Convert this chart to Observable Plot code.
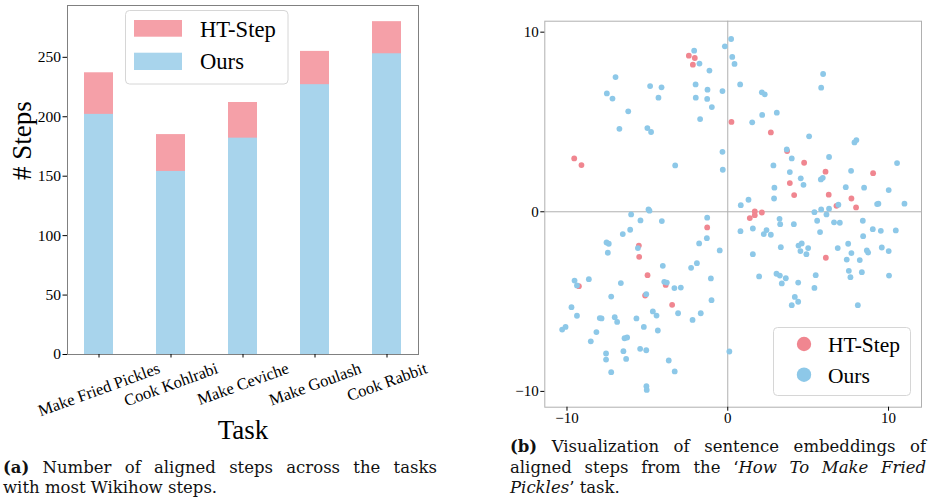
<!DOCTYPE html>
<html><head><meta charset="utf-8">
<script src="https://cdn.jsdelivr.net/npm/d3@7"></script>
<script src="https://cdn.jsdelivr.net/npm/@observablehq/plot@0.6"></script>
<style>
html,body{margin:0;padding:0;background:#fff;}
#page{position:relative;width:928px;height:502px;overflow:hidden;background:#fff;}
.abs{position:absolute;}
.cap{position:absolute;font-family:"DejaVu Serif",serif;font-size:16.5px;line-height:20.5px;color:#111;white-space:nowrap;}
.just{text-align:justify;text-align-last:justify;white-space:normal;}
</style></head><body>
<div id="page">
  <div id="barHolder" class="abs" style="left:0;top:0;"></div>
  <div id="scHolder" class="abs" style="left:500px;top:0;"></div>
  <svg class="abs" style="left:0;top:0;" width="460" height="100" font-family="'Liberation Serif', serif">
    <rect x="125.5" y="10.5" width="162.5" height="73.5" rx="4" fill="#fff" stroke="#d6d6d6"/>
    <rect x="134" y="20" width="48" height="16.7" fill="#F5A0A8"/>
    <rect x="134" y="52.7" width="48" height="17.3" fill="#A8D4EC"/>
    <text x="200" y="36.7" font-size="22.6" fill="#000">HT-Step</text>
    <text x="200" y="69.3" font-size="22.6" fill="#000">Ours</text>
  </svg>
  <svg class="abs" style="left:0;top:0;" width="928" height="420" font-family="'Liberation Serif', serif">
    <rect x="773.5" y="327.5" width="137" height="68" rx="4" fill="#fff" stroke="#d6d6d6"/>
    <circle cx="804" cy="344" r="7.2" fill="#F08690"/>
    <circle cx="804" cy="374.7" r="7.2" fill="#8DC8E8"/>
    <text x="828" y="351.7" font-size="21.5" fill="#000">HT-Step</text>
    <text x="828" y="382.7" font-size="21.5" fill="#000">Ours</text>
  </svg>
  <div class="cap just" style="left:3px;top:457.5px;width:434px;"><b>(a)</b> Number of aligned steps across the tasks</div>
  <div class="cap" style="left:3px;top:478px;">with most Wikihow steps.</div>
  <div class="cap just" style="left:510px;top:436.5px;width:416px;"><b>(b)</b> Visualization of sentence embeddings of</div>
  <div class="cap just" style="left:510px;top:457.5px;width:416px;">aligned steps from the ‘<i>How To Make Fried</i></div>
  <div class="cap" style="left:510px;top:478px;"><i>Pickles</i>’ task.</div>
</div>
<script>
// ---- Bar chart data ----
const tasks = ["Make Fried Pickles", "Cook Kohlrabi", "Make Ceviche", "Make Goulash", "Cook Rabbit"];
const htStepSteps = [237, 185, 212, 255, 280];
const oursSteps = [202, 154, 182, 227, 253];
const barYTicks = [0, 50, 100, 150, 200, 250];

// ---- Scatter data ----
const scatterTicks = [-10, 0, 10];
const htStepPts = [
  [-2.42,8.69],[-2.05,8.56],[-2.17,8.19],[0.23,5.00],[2.68,4.42],[3.69,3.38],
  [-9.55,2.97],[-9.10,2.60],[-1.28,-0.87],[-5.53,-1.88],[-5.51,-2.51],[-4.99,-3.53],
  [4.75,2.73],[6.08,2.23],[9.04,2.15],[3.86,1.60],[4.13,0.93],[6.28,0.95],
  [7.69,0.74],[7.98,0.24],[6.76,0.33],[1.68,0.02],[1.68,-0.19],[2.12,-0.04],
  [1.37,-0.35],[6.10,-2.56],[-9.26,-4.14],[-3.86,-4.07],[-5.14,-4.66],[-3.46,-5.18]
];
const oursPts = [
  [0.21,9.62],[-0.18,9.21],[-2.09,8.97],[0.28,8.62],[0.42,8.23],[-1.76,8.25],[-1.14,7.86],
  [-6.98,7.50],[-2.00,7.09],[-4.83,7.00],[-4.12,6.93],[-1.26,6.80],[-0.33,6.72],[-7.52,6.59],
  [-7.17,6.30],[-4.31,6.35],[-1.99,6.35],[-1.28,6.28],[-0.99,5.83],[-6.19,5.59],[-1.72,5.16],
  [-6.74,4.62],[-5.00,4.66],[-4.77,4.44],[-0.33,3.34],
  [5.93,7.67],[0.77,7.09],[5.81,6.91],[2.12,6.65],[2.30,6.54],[2.14,5.39],[3.05,5.52],
  [1.52,4.98],[5.06,4.20],[7.88,3.86],[8.00,3.99],[3.67,3.47],
  [-3.27,2.58],[-0.31,2.34],[-4.93,0.13],[-4.87,0.06],[-6.01,-0.15],[-5.43,-0.48],[-4.10,-0.52],
  [-1.28,-0.33],[-6.07,-1.00],[-6.53,-1.24],[-7.54,-1.71],[-7.40,-1.78],[-5.59,-2.02],[-7.46,-2.28],
  [-1.30,-1.47],[-1.78,-1.76],[-0.50,-2.15],[-4.04,-3.01],[-1.92,-2.86],[-2.28,-3.12],[-9.53,-3.83],
  [-8.64,-3.75],[-1.05,-3.71],
  [6.30,3.05],[3.98,2.97],[2.84,2.58],[10.53,2.71],[3.86,2.21],[7.67,2.28],[5.79,1.80],[5.91,1.89],
  [4.54,1.86],[4.71,1.50],[2.90,1.34],[7.34,1.37],[8.48,1.34],[10.01,1.21],[2.88,0.74],[1.29,0.67],
  [0.81,0.37],[6.88,0.39],[9.29,0.43],[9.37,0.45],[10.99,0.45],[5.39,-0.02],[5.81,0.13],[6.30,0.17],
  [6.14,-0.15],[3.22,-0.39],[3.26,-0.69],[5.56,-0.50],[4.11,-0.69],[6.61,-0.59],[6.97,-0.61],[8.40,-0.50],
  [0.79,-1.08],[1.56,-0.93],[2.41,-1.02],[2.24,-1.24],[2.68,-1.28],[5.74,-1.13],[9.02,-0.97],[9.52,-1.06],
  [10.45,-1.04],[8.42,-1.36],[3.30,-1.97],[4.40,-1.88],[4.60,-1.76],[5.00,-2.02],[4.52,-2.19],[4.89,-2.36],
  [6.84,-2.02],[7.49,-1.78],[7.69,-2.30],[7.40,-2.66],[8.21,-2.69],[8.65,-2.15],[8.73,-2.27],[9.58,-1.99],
  [10.01,-2.19],[1.56,-2.36],[1.95,-3.60],[3.03,-3.45],[3.24,-3.55],[3.61,-3.70],[5.47,-3.53],[7.53,-3.29],
  [7.63,-3.64],[8.34,-3.36],[10.03,-3.55],
  [-9.38,-4.10],[-6.65,-3.97],[-3.95,-3.90],[-3.79,-3.94],[-3.32,-4.25],[-2.92,-4.22],[-5.07,-4.59],
  [-7.25,-4.72],[-9.72,-5.31],[-9.38,-5.79],[-10.30,-6.56],[-10.09,-6.41],[-7.96,-5.92],[-7.85,-5.94],
  [-7.03,-5.87],[-6.88,-6.13],[-5.68,-5.94],[-4.66,-5.55],[-4.43,-5.78],[-5.22,-6.41],[-4.35,-6.61],
  [-8.17,-6.70],[-8.52,-7.21],[-6.42,-7.04],[-6.26,-7.00],[-7.57,-7.89],[-7.57,-8.23],[-6.49,-7.76],
  [-6.32,-8.19],[-5.45,-7.63],[-5.07,-7.71],[-7.25,-8.93],[-3.67,-8.28],[-3.30,-8.89],[-5.06,-9.71],
  [-5.04,-9.92],[-3.09,-5.65],[-2.19,-6.02],[-1.68,-5.65],[-1.01,-4.92],[0.10,-7.78],
  [3.36,-3.99],[4.38,-3.94],[5.39,-4.24],[4.17,-4.74],[4.38,-5.01],[3.98,-5.20],[8.09,-5.20]
];

const serif = '"Liberation Serif", "Times New Roman", serif';
const barData = tasks.map((t, i) => ({task: t, ht: htStepSteps[i], ours: oursSteps[i]}));

const bar = Plot.plot({
  width: 460, height: 450,
  marginLeft: 67, marginRight: 42, marginTop: 5, marginBottom: 96,
  style: {fontFamily: serif, fontSize: "15.5px", color: "#000", background: "transparent", overflow: "visible"},
  x: {domain: tasks, paddingInner: 0.6, paddingOuter: 0.22, axis: null},
  y: {domain: [0, 293.6], axis: null},
  marks: [
    Plot.barY(barData, {x: "task", y: "ht", fill: "#F5A0A8"}),
    Plot.barY(barData, {x: "task", y: "ours", fill: "#A8D4EC"}),
    Plot.frame({stroke: "#808080", strokeWidth: 1}),
    Plot.axisY(barYTicks, {tickSize: 4.5, tickPadding: 2, label: null, fontSize: 15.5}),
    Plot.axisX(tasks, {tickSize: 3.5, tickFormat: () => "", label: null}),
    Plot.text(tasks, {x: d => d, frameAnchor: "bottom", rotate: -20, textAnchor: "middle", lineAnchor: "middle", fontSize: 16.5, ariaDescription: "xlab"}),
    Plot.text(["# Steps"], {frameAnchor: "left", dx: -45, rotate: -90, fontSize: 27}),
    Plot.text(["Task"], {frameAnchor: "bottom", dy: 84, fontSize: 27})
  ]
});
document.getElementById("barHolder").appendChild(bar);

// place rotated tick labels like matplotlib (centered on tick, bbox top under the axis)
const ang = 20 * Math.PI / 180;
bar.querySelectorAll('g[aria-description="xlab"] text').forEach(t => {
  const bb = t.getBBox();
  const m = /translate\(\s*([-\d.e]+)[,\s]+([-\d.e]+)\s*\)/.exec(t.getAttribute("transform") || "");
  if (!m) return;
  const half = (bb.width * Math.sin(ang) + bb.height * 0.8 * Math.cos(ang)) / 2;
  t.setAttribute("transform", `translate(${+m[1]},${+m[2] + 6 + half}) rotate(-20)`);
});

const sc = Plot.plot({
  width: 428, height: 430,
  marginLeft: 44.3, marginRight: 7, marginTop: 20.7, marginBottom: 23.3,
  style: {fontFamily: serif, fontSize: "15px", color: "#000", background: "transparent", overflow: "visible"},
  x: {domain: [-11.38, 12.05], axis: null},
  y: {domain: [-10.88, 10.61], axis: null},
  marks: [
    Plot.ruleX([0], {stroke: "#b0b0b0", strokeWidth: 1}),
    Plot.ruleY([0], {stroke: "#b0b0b0", strokeWidth: 1}),
    Plot.dot(htStepPts, {x: d => d[0], y: d => d[1], r: 2.9, fill: "#F08690"}),
    Plot.dot(oursPts, {x: d => d[0], y: d => d[1], r: 2.9, fill: "#8DC8E8"}),
    Plot.frame({stroke: "#b0b0b0", strokeWidth: 1}),
    Plot.axisX(scatterTicks, {tickSize: 4, tickPadding: 1, label: null, fontSize: 15}),
    Plot.axisY(scatterTicks, {tickSize: 4, tickPadding: 2, label: null, fontSize: 15})
  ]
});
document.getElementById("scHolder").appendChild(sc);
</script>
</body></html>
